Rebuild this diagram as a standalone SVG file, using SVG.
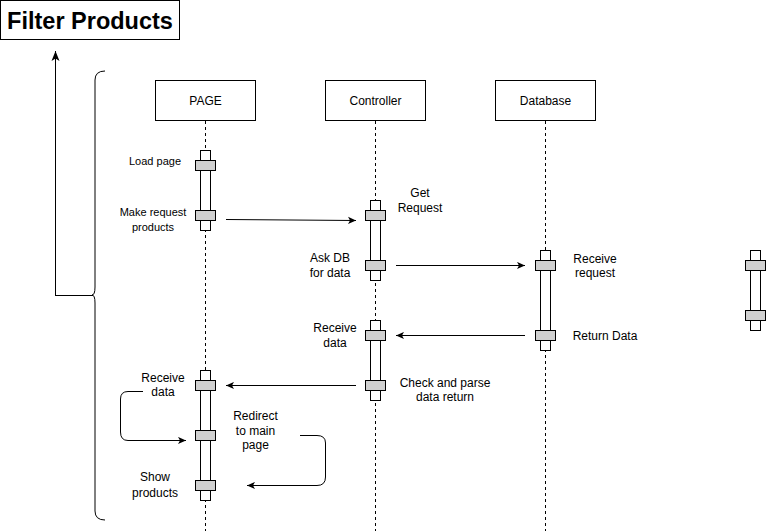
<svg xmlns="http://www.w3.org/2000/svg" width="766" height="531" viewBox="0 0 766 531">
<defs>
<marker id="arr" viewBox="0 0 10 10" refX="10" refY="5" markerWidth="8" markerHeight="8" markerUnits="userSpaceOnUse" orient="auto">
<path d="M0,0.5 L10,5 L0,9.5 L2.5,5 Z" fill="#000"/>
</marker>
<marker id="arrL" viewBox="0 0 10 10" refX="10" refY="5" markerWidth="10" markerHeight="10" markerUnits="userSpaceOnUse" orient="auto">
<path d="M0,1 L10,5 L0,9 L2.5,5 Z" fill="#000"/>
</marker>
</defs>
<style>
text{font-family:"Liberation Sans",Arial,sans-serif;fill:#000;}
.lbl{font-size:12px;text-anchor:middle;}
.sm{font-size:11px;text-anchor:middle;}
.box{fill:#fff;stroke:#000;stroke-width:1;}
.life{stroke:#000;stroke-width:1;stroke-dasharray:3,3;fill:none;}
.bar{fill:#fff;stroke:#000;stroke-width:1;}
.blk{fill:#d0d0d0;stroke:#000;stroke-width:1;}
.msg{stroke:#000;stroke-width:1;fill:none;marker-end:url(#arr);}
</style>
<rect width="766" height="531" fill="#fff"/>

<g id="title">
<rect x="0.5" y="0.5" width="179" height="39" class="box"/>
<text x="90" y="29" style="font-size:23.5px;font-weight:bold;text-anchor:middle">Filter Products</text>
</g>

<g id="brace">
<path d="M105,71 Q95,71 95,80 L95,287 Q95,295 92,295 Q95,295 95,303 L95,511 Q95,520 105,520" fill="none" stroke="#000" stroke-width="1"/>
</g>

<g id="lifelines">
<line x1="205.5" y1="121" x2="205.5" y2="531" class="life"/>
<line x1="375.5" y1="121" x2="375.5" y2="531" class="life"/>
<line x1="545.5" y1="121" x2="545.5" y2="531" class="life"/>
</g>

<g id="page">
<rect x="155.5" y="80.5" width="100" height="40" class="box"/>
<text x="205.5" y="105" class="lbl">PAGE</text>
</g>
<g id="controller">
<rect x="325.5" y="80.5" width="100" height="40" class="box"/>
<text x="375.5" y="105" class="lbl">Controller</text>
</g>
<g id="database">
<rect x="495.5" y="80.5" width="100" height="40" class="box"/>
<text x="545.5" y="105" class="lbl">Database</text>
</g>

<g id="page-act1">
<rect x="200.5" y="150.5" width="10" height="80" class="bar"/>
<rect x="195.5" y="160.5" width="20" height="10" class="blk"/>
<rect x="195.5" y="210.5" width="20" height="10" class="blk"/>
<text x="155" y="165" class="sm">Load page</text>
<text x="153" y="216" class="sm">Make request</text>
<text x="153" y="231" class="sm">products</text>
</g>

<g id="ctrl-act1">
<rect x="370.5" y="200.5" width="10" height="80" class="bar"/>
<rect x="365.5" y="210.5" width="20" height="10" class="blk"/>
<rect x="365.5" y="260.5" width="20" height="10" class="blk"/>
<text x="420" y="197" class="lbl">Get</text>
<text x="420" y="212" class="lbl">Request</text>
<text x="330" y="262" class="lbl">Ask DB</text>
<text x="330" y="277" class="lbl">for data</text>
</g>

<g id="db-act">
<rect x="540.5" y="250.5" width="10" height="100" class="bar"/>
<rect x="535.5" y="260.5" width="20" height="10" class="blk"/>
<rect x="535.5" y="330.5" width="20" height="10" class="blk"/>
<text x="595" y="263" class="lbl">Receive</text>
<text x="595" y="277" class="lbl">request</text>
<text x="605" y="340" class="lbl">Return Data</text>
</g>

<g id="extra-act">
<rect x="750.5" y="250.5" width="10" height="80" class="bar"/>
<rect x="745.5" y="260.5" width="20" height="10" class="blk"/>
<rect x="745.5" y="310.5" width="20" height="10" class="blk"/>
</g>

<g id="ctrl-act2">
<rect x="370.5" y="320.5" width="10" height="80" class="bar"/>
<rect x="365.5" y="330.5" width="20" height="10" class="blk"/>
<rect x="365.5" y="380.5" width="20" height="10" class="blk"/>
<text x="335" y="332" class="lbl">Receive</text>
<text x="335" y="347" class="lbl">data</text>
<text x="445" y="387" class="lbl">Check and parse</text>
<text x="445" y="401" class="lbl">data return</text>
</g>

<g id="page-act2">
<rect x="200.5" y="370.5" width="10" height="130" class="bar"/>
<rect x="195.5" y="380.5" width="20" height="10" class="blk"/>
<rect x="195.5" y="430.5" width="20" height="10" class="blk"/>
<rect x="195.5" y="480.5" width="20" height="10" class="blk"/>
<text x="163" y="382" class="lbl">Receive</text>
<text x="163" y="396" class="lbl">data</text>
<text x="255.5" y="420" class="lbl">Redirect</text>
<text x="255.5" y="435" class="lbl">to main</text>
<text x="255.5" y="449" class="lbl">page</text>
<text x="155" y="481" class="lbl">Show</text>
<text x="155" y="497" class="lbl">products</text>
</g>

<g id="connectors">
<path d="M55,295.5 L93,295.5 M55.5,295 L55.5,51" fill="none" stroke="#000" stroke-width="1" marker-end="url(#arrL)"/>
<path d="M226,219.5 L356,220.5" class="msg"/>
<path d="M396,265.5 L525,265.5" class="msg"/>
<path d="M525,335.5 L396,335.5" class="msg"/>
<path d="M356,385.5 L226,385.5" class="msg"/>
<path d="M143,391.5 L128,391.5 Q120.5,391.5 120.5,399 L120.5,432 Q120.5,440.5 128,440.5 L186,440.5" class="msg"/>
<path d="M300,435.5 L317,435.5 Q325.5,435.5 325.5,443 L325.5,477 Q325.5,485.5 317,485.5 L247,485.5" class="msg"/>
</g>
</svg>
